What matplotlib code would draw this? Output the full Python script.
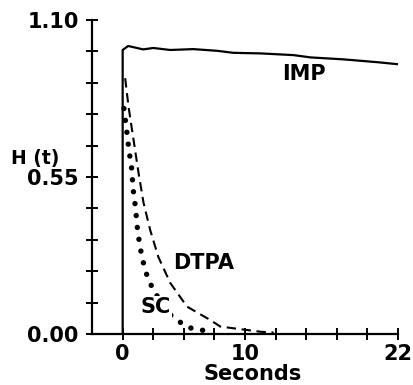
import numpy as np
import matplotlib
matplotlib.use("Agg")
import matplotlib.pyplot as plt

# curves (seconds, H(t))
imp_t = [0, 0, 0.44, 1.64, 2.44, 3.8, 5.65, 7.57, 8.85, 11.0, 13.66, 15.0, 17.67, 20.4, 22.0]
imp_h = [0, 0.995, 1.009, 0.997, 1.002, 0.995, 0.998, 0.992, 0.985, 0.983, 0.977, 0.969, 0.962, 0.952, 0.945]

dtpa_t = [0.2, 0.47, 0.87, 1.27, 1.67, 2.2, 2.85, 3.8, 5.14, 7.0, 7.8, 9.4, 11.0, 12.06]
dtpa_h = [0.896, 0.796, 0.68, 0.564, 0.459, 0.364, 0.27, 0.179, 0.096, 0.049, 0.026, 0.017, 0.008, 0.005]

sc_t = [0.1, 0.3, 0.47, 0.6, 0.74, 0.79, 0.87, 1.0, 1.09, 1.19, 1.35, 1.54, 1.8, 2.07, 2.47, 3.2, 3.94, 4.74, 5.27, 6.07, 6.75]
sc_h = [0.79, 0.72, 0.656, 0.615, 0.574, 0.533, 0.494, 0.452, 0.411, 0.364, 0.317, 0.27, 0.224, 0.189, 0.154, 0.1, 0.061, 0.037, 0.023, 0.014, 0.012]

x_ticks = np.linspace(0, 22, 10)
x_labels = ['0', '', '', '', '10', '', '', '', '', '22']
y_ticks = np.linspace(0, 1.10, 11)
y_labels = ['0.00', '', '', '', '', '0.55', '', '', '', '', '1.10']

plt.rcParams['font.family'] = 'DejaVu Sans'
plt.rcParams['font.weight'] = 'bold'

fig = plt.figure(figsize=(4.14, 3.85), dpi=100)
ax = fig.add_axes([92 / 414, 51 / 385, 306 / 414, 314 / 385])

ax.plot(imp_t, imp_h, color='black', linewidth=1.6)
ax.plot(dtpa_t, dtpa_h, color='black', linewidth=1.5, linestyle=(0, (4.5, 2.7)))
ax.plot(sc_t, sc_h, color='black', linewidth=3.9, linestyle=(0, (0.01, 2.2)),
        dash_capstyle='round')

ax.set_xlim(-2.45, 22)
ax.set_ylim(0, 1.10)

for side in ('top', 'right'):
    ax.spines[side].set_visible(False)
for side in ('left', 'bottom'):
    ax.spines[side].set_linewidth(1.6)

ax.set_xticks(x_ticks)
ax.set_xticklabels(x_labels)
ax.set_yticks(y_ticks)
ax.set_yticklabels(y_labels)
ax.tick_params(axis='both', direction='inout', length=9, width=1.4,
               labelsize=15, pad=3)
ax.tick_params(axis='y', pad=5)

ax.set_xlabel('Seconds', fontsize=15, fontweight='bold')
ax.xaxis.set_label_coords(0.526, -0.127)
ax.xaxis.label.set_va('center')
ax.set_ylabel('H (t)', fontsize=13.5, fontweight='bold', rotation=0,
              ha='right', va='center')
ax.yaxis.set_label_coords(-0.105, 0.56)

ax.text(14.5, 0.91, 'IMP', fontsize=15, fontweight='bold', ha='center', va='center')
ax.text(6.5, 0.25, 'DTPA', fontsize=15, fontweight='bold', ha='center', va='center')
ax.text(2.65, 0.095, 'SC', fontsize=15, fontweight='bold', ha='center', va='center',
        bbox=dict(facecolor='white', edgecolor='none', pad=0.5), zorder=5)

fig.savefig('out.png', dpi=100)
